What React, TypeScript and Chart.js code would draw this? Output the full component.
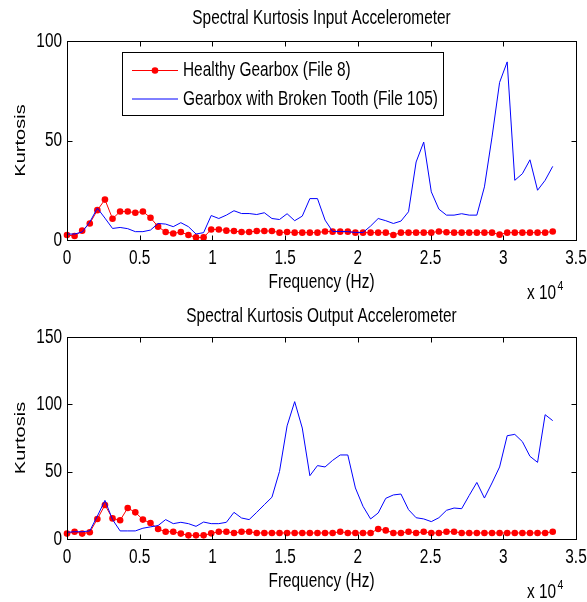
import React, { useEffect, useRef } from "react";
import { Chart, registerables } from "chart.js";

Chart.register(...registerables);

// Frequency bins (Hz)
const FREQ = [
  0, 522, 1044, 1566, 2088, 2609, 3131, 3653, 4175, 4697, 5219, 5741, 6263, 6784, 7306, 7828,
  8350, 8872, 9394, 9916, 10438, 10959, 11481, 12003, 12525, 13047, 13569, 14091, 14613, 15134,
  15656, 16178, 16700, 17222, 17744, 18266, 18788, 19309, 19831, 20353, 20875, 21397, 21919,
  22441, 22963, 23484, 24006, 24528, 25050, 25572, 26094, 26616, 27138, 27659, 28181, 28703,
  29225, 29747, 30269, 30791, 31313, 31834, 32356, 32878, 33400,
];

// Input accelerometer
const INPUT_HEALTHY = [
  2.5, 2, 4.7, 8.3, 15, 20.3, 10.7, 14.3, 14.3, 13.7, 14.3, 11.2, 6.7, 4, 3.3, 4, 2.5, 1.3, 1.3,
  5.3, 5.3, 4.7, 4.5, 4, 4, 4.5, 4.5, 4.5, 3.7, 4, 3.7, 3.7, 3.7, 3.7, 4.3, 4.2, 4.2, 4.2, 3.7,
  3.7, 3.7, 3.7, 3.7, 2.5, 3.7, 3.7, 3.7, 3.7, 3.7, 4.3, 3.9, 3.7, 3.7, 3.7, 3.7, 3.7, 3.7, 2.7,
  3.7, 3.7, 3.7, 3.7, 3.7, 3.7, 4.3,
];
const INPUT_BROKEN = [
  3, 3, 4, 9, 16, 11, 5.8, 6.3, 5.7, 4.2, 4.2, 5, 8.3, 8, 6.7, 8.7, 6.7, 3, 3.7, 12.3, 10.8,
  12.5, 14.7, 13.3, 13.3, 12.8, 13.7, 10.8, 10.3, 13.2, 9.7, 12, 20.8, 20.8, 10, 4.3, 4.3, 4.2,
  3.8, 3.8, 7, 10.8, 9.7, 8.3, 9.5, 14.2, 39.2, 49.2, 24.2, 15.5, 12.5, 12.5, 13.2, 12.5, 12.5,
  26.7, 51.7, 79.2, 89.5, 30, 33.3, 40.3, 25, 30, 37,
];

// Output accelerometer
const OUTPUT_HEALTHY = [
  4, 5.4, 4, 5, 14.9, 25.2, 15.3, 13.9, 23, 19.8, 14.4, 11.9, 7.4, 5.4, 5.4, 4, 2.7, 2.7, 2.7,
  4.2, 5.4, 5.4, 4.5, 5.4, 5.4, 4.5, 4.5, 4.5, 4.5, 4.5, 4.5, 4.5, 4.5, 4.5, 4.5, 4.5, 5.4, 4.5,
  4.5, 4.5, 4.5, 7.4, 6.4, 4.5, 4.5, 5.4, 4.5, 5.4, 4.5, 4.5, 5.4, 5.4, 4.5, 4.5, 4.5, 4.5, 4.5,
  4.5, 4.5, 4.5, 4.5, 4.5, 4.5, 4.5, 5.4,
];
const OUTPUT_BROKEN = [
  5, 5.4, 5.4, 6, 17, 28.7, 14.4, 6, 6, 6, 8, 9, 10, 14.4, 11.4, 12.4, 11.4, 9.4, 12.6, 11.4,
  11.4, 12.4, 19.8, 15.6, 14.4, 19.8, 25.5, 31, 50.2, 84, 102, 82.4, 47, 54.5, 53.5, 58.4, 62.4,
  62.4, 37.9, 24.3, 14.9, 19.3, 30.2, 32.7, 33.4, 21.8, 15.8, 14.9, 12.9, 15.8, 21.3, 23, 22.5,
  32.4, 42, 30.4, 41.6, 53.5, 76.7, 77.7, 72.3, 61.4, 56.9, 92.3, 87.9,
];

const X_TICKS = [0, 5000, 10000, 15000, 20000, 25000, 30000, 35000];
const X_TICK_LABELS = ["0", "0.5", "1", "1.5", "2", "2.5", "3", "3.5"];
const Y_TICKS_INPUT = [0, 50, 100];
const Y_TICKS_OUTPUT = [0, 50, 100, 150];

const SERIES_NAMES = ["Healthy Gearbox (File 8)", "Gearbox with Broken Tooth (File 105)"];
const TITLES = ["Spectral Kurtosis Input Accelerometer", "Spectral Kurtosis Output Accelerometer"];
const X_LABEL = "Frequency (Hz)";
const Y_LABEL = "Kurtosis";

const FONT = "'Liberation Sans', Arial, Helvetica, sans-serif";
const FS = 15.4;
const SY = 1.3;
const RED = "#ff0000";
const BLUE = "#0000ff";

function txt(ctx: CanvasRenderingContext2D, s: string, x: number, y: number, align: CanvasTextAlign, size = FS, rot = false) {
  ctx.save();
  ctx.translate(x, y);
  ctx.scale(1, SY);
  if (rot) ctx.rotate(-Math.PI / 2);
  ctx.font = `${size}px ${FONT}`;
  ctx.textAlign = align;
  ctx.textBaseline = "middle";
  ctx.fillStyle = "#000";
  ctx.fillText(s, 0, 0);
  ctx.restore();
}

function makePlugin(title: string, titleY: number, yTicks: number[], legend: boolean) {
  return {
    id: "matlabAxes",
    afterDatasetsDraw(chart: any) {
      const { ctx, chartArea } = chart;
      const { left, right, top, bottom } = chartArea;
      const xs = chart.scales.x;
      const ys = chart.scales.y;
      ctx.save();
      ctx.strokeStyle = "#000";
      ctx.lineWidth = 1;
      const L = Math.round(left) + 0.5, R = Math.round(right) + 0.5;
      const T = Math.round(top) + 0.5, B = Math.round(bottom) + 0.5;
      ctx.strokeRect(L, T, R - L, B - T);
      const TL = 5;
      ctx.beginPath();
      X_TICKS.forEach((v) => {
        const px = Math.round(xs.getPixelForValue(v)) + 0.5;
        ctx.moveTo(px, B); ctx.lineTo(px, B - TL);
        ctx.moveTo(px, T); ctx.lineTo(px, T + TL);
      });
      yTicks.forEach((v) => {
        const py = Math.round(ys.getPixelForValue(v)) + 0.5;
        ctx.moveTo(L, py); ctx.lineTo(L + TL, py);
        ctx.moveTo(R, py); ctx.lineTo(R - TL, py);
      });
      ctx.stroke();

      if (legend) {
        const bx = 122.5, by = 52.5, bw = 321, bh = 63;
        ctx.fillStyle = "#fff";
        ctx.fillRect(bx, by, bw, bh);
        ctx.strokeRect(bx, by, bw, bh);
        const rows = [70.5, 99];
        ctx.strokeStyle = RED;
        ctx.beginPath(); ctx.moveTo(132, rows[0]); ctx.lineTo(178, rows[0]); ctx.stroke();
        ctx.fillStyle = RED;
        ctx.beginPath(); ctx.arc(155, rows[0], 3.3, 0, Math.PI * 2); ctx.fill();
        ctx.strokeStyle = BLUE;
        ctx.beginPath(); ctx.moveTo(132, rows[1]); ctx.lineTo(178, rows[1]); ctx.stroke();
        txt(ctx, SERIES_NAMES[0], 183, rows[0], "left");
        txt(ctx, SERIES_NAMES[1], 183, rows[1], "left");
      }
      ctx.restore();
    },
    afterDraw(chart: any) {
      const { ctx, chartArea } = chart;
      const { left, right, top, bottom } = chartArea;
      const xs = chart.scales.x;
      const ys = chart.scales.y;
      const cx = (left + right) / 2;
      txt(ctx, title, cx, titleY, "center");
      X_TICKS.forEach((v, i) => {
        txt(ctx, X_TICK_LABELS[i], xs.getPixelForValue(v), bottom + 18, "center");
      });
      yTicks.forEach((v) => {
        txt(ctx, String(v), left - 5, ys.getPixelForValue(v), "right");
      });
      txt(ctx, X_LABEL, cx, bottom + 42, "center");
      txt(ctx, "x 10", 556, bottom + 53, "right");
      txt(ctx, "4", 557.5, bottom + 46, "left", 10.5);
      txt(ctx, Y_LABEL, 21, (top + bottom) / 2, "center", FS, true);
    },
  };
}

function buildChart(canvas: HTMLCanvasElement, healthy: number[], broken: number[], yMax: number, yTicks: number[], title: string, titleY: number, padding: any, legend: boolean) {
  return new Chart(canvas, {
    type: "line",
    data: {
      datasets: [
        {
          label: SERIES_NAMES[0],
          data: FREQ.map((f, i) => ({ x: f, y: healthy[i] })),
          borderColor: RED,
          backgroundColor: RED,
          borderWidth: 1,
          pointRadius: 3.3,
          pointBorderWidth: 0,
          pointBackgroundColor: RED,
          tension: 0,
          clip: false as any,
          order: 2,
        },
        {
          label: SERIES_NAMES[1],
          data: FREQ.map((f, i) => ({ x: f, y: broken[i] })),
          borderColor: BLUE,
          backgroundColor: BLUE,
          borderWidth: 1,
          pointRadius: 0,
          tension: 0,
          clip: false as any,
          order: 1,
        },
      ],
    },
    options: {
      responsive: false,
      animation: false,
      devicePixelRatio: 1,
      layout: { padding },
      plugins: { legend: { display: false }, tooltip: { enabled: false }, title: { display: false } },
      scales: {
        x: { type: "linear", min: 0, max: 35000, display: false },
        y: { type: "linear", min: 0, max: yMax, display: false },
      },
    },
    plugins: [makePlugin(title, titleY, yTicks, legend)],
  } as any);
}

export default function App() {
  const topRef = useRef<HTMLCanvasElement>(null);
  const botRef = useRef<HTMLCanvasElement>(null);
  useEffect(() => {
    const c1 = buildChart(topRef.current!, INPUT_HEALTHY, INPUT_BROKEN, 100, Y_TICKS_INPUT, TITLES[0], 18,
      { left: 67, right: 11, top: 41, bottom: 61 }, true);
    const c2 = buildChart(botRef.current!, OUTPUT_HEALTHY, OUTPUT_BROKEN, 150, Y_TICKS_OUTPUT, TITLES[1], 15.5,
      { left: 67, right: 11, top: 36, bottom: 63 }, false);
    return () => { c1.destroy(); c2.destroy(); };
  }, []);
  return (
    <div style={{ position: "absolute", left: 0, top: 0, width: 587, height: 602, background: "#fff" }}>
      <canvas ref={topRef} width={587} height={301} style={{ position: "absolute", left: 0, top: 0, width: 587, height: 301 }} />
      <canvas ref={botRef} width={587} height={301} style={{ position: "absolute", left: 0, top: 301, width: 587, height: 301 }} />
    </div>
  );
}
